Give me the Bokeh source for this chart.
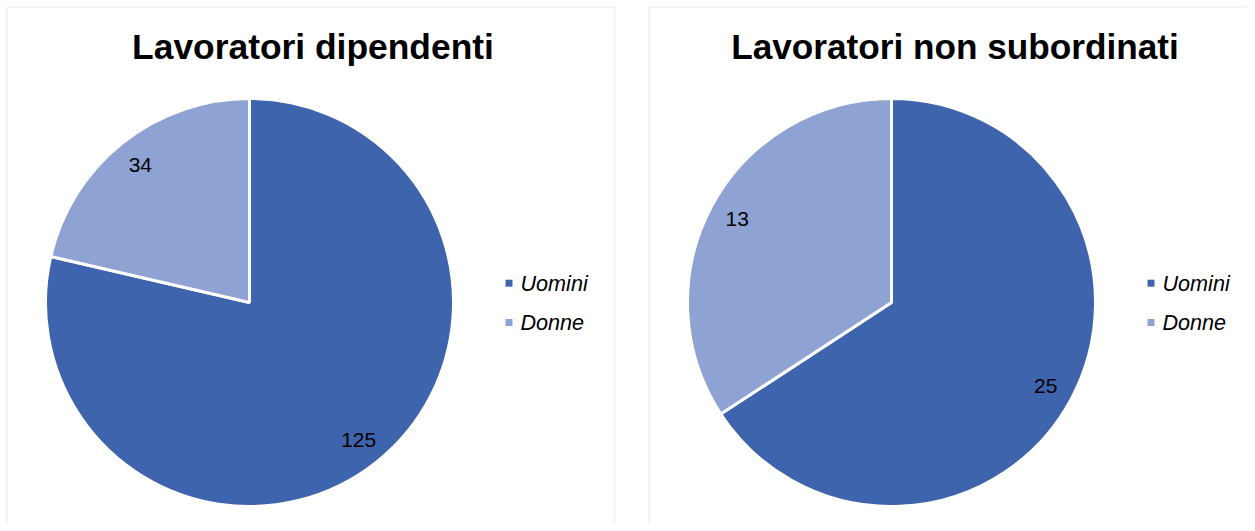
import math
from bokeh.plotting import figure
from bokeh.layouts import row
from bokeh.models import ColumnDataSource, Range1d, BoxAnnotation
from bokeh.core.properties import value
from bokeh.embed import file_html
from bokeh.resources import INLINE

# ---- data ----
categories = ["Uomini", "Donne"]
dipendenti = [125, 34]
non_subordinati = [25, 13]
titles = ["Lavoratori dipendenti", "Lavoratori non subordinati"]
colors = ["#3D64AD", "#8FA2D4"]

FONT = "Liberation Sans"
H = 523


def make_panel(title, values, width, ox, title_size):
    # ox: horizontal offset of the panel's content inside this figure
    p = figure(width=width, height=H, output_backend="svg", toolbar_location=None,
               x_axis_type=None, y_axis_type=None, min_border=0,
               x_range=Range1d(0, width), y_range=Range1d(0, H))
    p.outline_line_color = None
    p.grid.visible = False
    p.background_fill_color = "white"
    p.border_fill_color = "white"

    # panel border (bottom edge hidden below the window)
    p.add_layout(BoxAnnotation(left=ox + 6.5, right=ox + 614, bottom=-20, top=H - 6.5,
                               fill_alpha=0, line_color="#d9d9d9", line_width=2))

    cx, cy, r = ox + 249, 221, 204
    total = float(sum(values))
    starts, ends, lx, ly, labels = [], [], [], [], []
    cum = 0.0
    for v in values:
        f0 = cum / total
        f1 = (cum + v) / total
        a0 = math.pi / 2 - 2 * math.pi * f0
        a1 = math.pi / 2 - 2 * math.pi * f1
        mid = (a0 + a1) / 2
        starts.append(a0)
        ends.append(a1)
        lx.append(cx + 0.86 * r * math.cos(mid))
        ly.append(cy + 0.86 * r * math.sin(mid))
        labels.append(str(v))
        cum += v

    src = ColumnDataSource(dict(start=starts, end=ends, color=colors,
                                lx=lx, ly=ly, label=labels, cat=categories))
    p.wedge(x=cx, y=cy, radius=r, start_angle="start", end_angle="end",
            direction="clock", fill_color="color", line_color="white",
            line_width=3, source=src)
    p.text(x="lx", y="ly", text="label", source=src, text_font=value(FONT),
           text_font_size="21px", text_color="#000000", text_align="center",
           text_baseline="middle")

    # title
    p.text(x=[ox + 312.5], y=[H - 46.0], text=[title], text_font=value(FONT),
           text_font_size=title_size, text_font_style="bold", text_color="#000000",
           text_align="center", text_baseline="middle")

    # legend
    leg_y = [H - 282.7, H - 322.0]
    lsrc = ColumnDataSource(dict(x=[ox + 508.5] * 2, y=leg_y, color=colors,
                                 tx=[ox + 520.0] * 2, cat=categories))
    p.scatter(x="x", y="y", marker="square", size=7, fill_color="color",
              line_color=None, source=lsrc)
    p.text(x="tx", y="y", text="cat", source=lsrc, text_font=value(FONT),
           text_font_size="21.6px", text_font_style="italic", text_color="#000000",
           text_align="left", text_baseline="middle")
    return p


p1 = make_panel(titles[0], dipendenti, 616, 0, "35.4px")
p2 = make_panel(titles[1], non_subordinati, 621, 16, "35.2px")
layout = row(p1, p2, spacing=10)

open("out.html", "w").write(file_html(layout, INLINE))
